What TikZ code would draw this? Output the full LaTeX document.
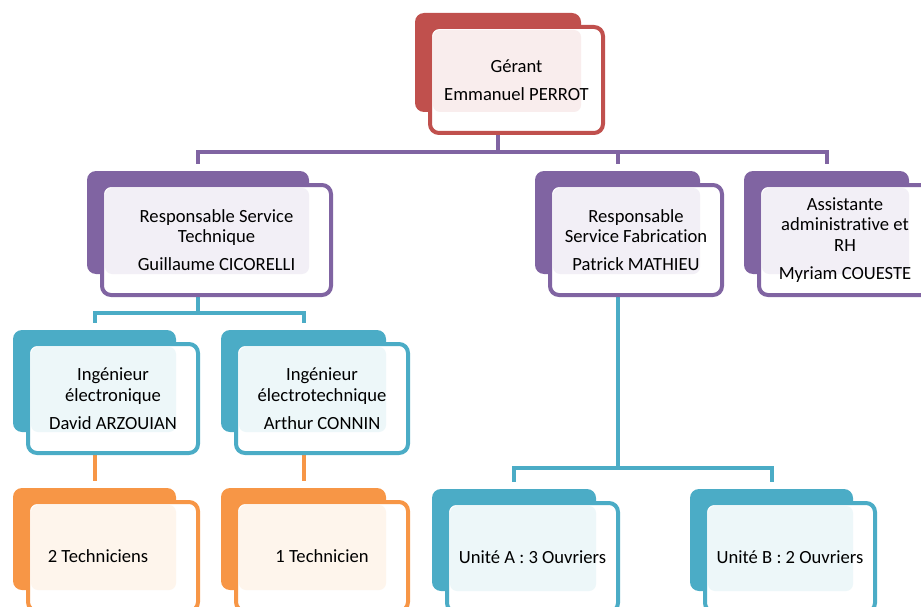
\documentclass[tikz,border=0pt]{standalone}
\usepackage{fontspec}
\setmainfont{Carlito}[Ligatures=NoCommon]
\usepackage{tikz}
\usetikzlibrary{calc}
\pgfdeclarelayer{background}
\pgfsetlayers{background,main}

\definecolor{orgred}{HTML}{C0504D}
\definecolor{orgpurple}{HTML}{8064A2}
\definecolor{orgcyan}{HTML}{4BACC6}
\definecolor{orgorange}{HTML}{F79646}

\tikzset{
  frontbox/.style={draw=#1, fill=white, line width=4pt, rounded corners=9pt,
    inner sep=0pt, outer sep=0pt, align=center,
    font=\fontsize{18.6}{20.5}\selectfont,
    path picture={\fill[#1!10, rounded corners=7pt]
      ([shift={(3,3)}]path picture bounding box.north west) rectangle
      ([shift={(-22,-21)}]path picture bounding box.south east);}},
  link/.style={draw=#1, line width=4pt}
}

% name, colour, centre of front box, width, height, text
\newcommand{\orgbox}[6]{%
  \node[frontbox=#2, minimum width=#4, minimum height=#5] (#1) at #3 {#6};
  \begin{pgfonlayer}{background}
    \fill[#2, rounded corners=9pt] ([shift={(-15,-14)}]#1.north west)
      rectangle ([shift={(-22,-21)}]#1.south east);
  \end{pgfonlayer}
  \coordinate (#1-top) at ([shift={(-18.5,-21)}]#1.north);
  \coordinate (#1-bot) at ([shift={(-18.5,0)}]#1.south);
}

\begin{document}
\begin{tikzpicture}[x=1pt,y=-1pt]
  \useasboundingbox (0,0) rectangle (921,607);
  \orgbox{ger}{orgred}{(516.5,80)}{173}{106}{Gérant\\[7.5pt]Emmanuel PERROT}
  \orgbox{tech}{orgpurple}{(216.5,240)}{229}{110}{Responsable Service\\Technique\\[7.5pt]Guillaume CICORELLI}
  \orgbox{fab}{orgpurple}{(636,240)}{172}{110}{Responsable\\Service Fabrication\\[7.5pt]Patrick MATHIEU}
  \orgbox{rh}{orgpurple}{(845,240)}{172}{110}{Assistante\\administrative et\\RH\\[7.5pt]Myriam COUESTE}
  \orgbox{elec}{orgcyan}{(113,398.5)}{170}{109}{Ingénieur\\électronique\\[7.5pt]David ARZOUIAN}
  \orgbox{etech}{orgcyan}{(322,398.5)}{172}{109}{Ingénieur\\électrotechnique\\[7.5pt]Arthur CONNIN}
  \orgbox{tecA}{orgorange}{(113,556.5)}{170}{109}{2 Techniciens\hspace*{30pt}}
  \orgbox{tecB}{orgorange}{(322,556.5)}{172}{109}{1 Technicien}
  \orgbox{unA}{orgcyan}{(532.5,557.5)}{171}{109}{Unité A : 3 Ouvriers}
  \orgbox{unB}{orgcyan}{(790,557.5)}{170}{109}{Unité B : 2 Ouvriers}

  \begin{pgfonlayer}{background}
    \foreach \c in {tech,fab,rh}
      \draw[link=orgpurple] (ger-bot) -- ++(0,19) -| (\c-top);
    \foreach \c in {elec,etech}
      \draw[link=orgcyan] (tech-bot) -- ++(0,18) -| (\c-top);
    \foreach \c in {unA,unB}
      \draw[link=orgcyan] (fab-bot) -- ++(0,173) -| (\c-top);
    \draw[link=orgorange] (elec-bot) -- (tecA-top);
    \draw[link=orgorange] (etech-bot) -- (tecB-top);
  \end{pgfonlayer}
\end{tikzpicture}
\end{document}
